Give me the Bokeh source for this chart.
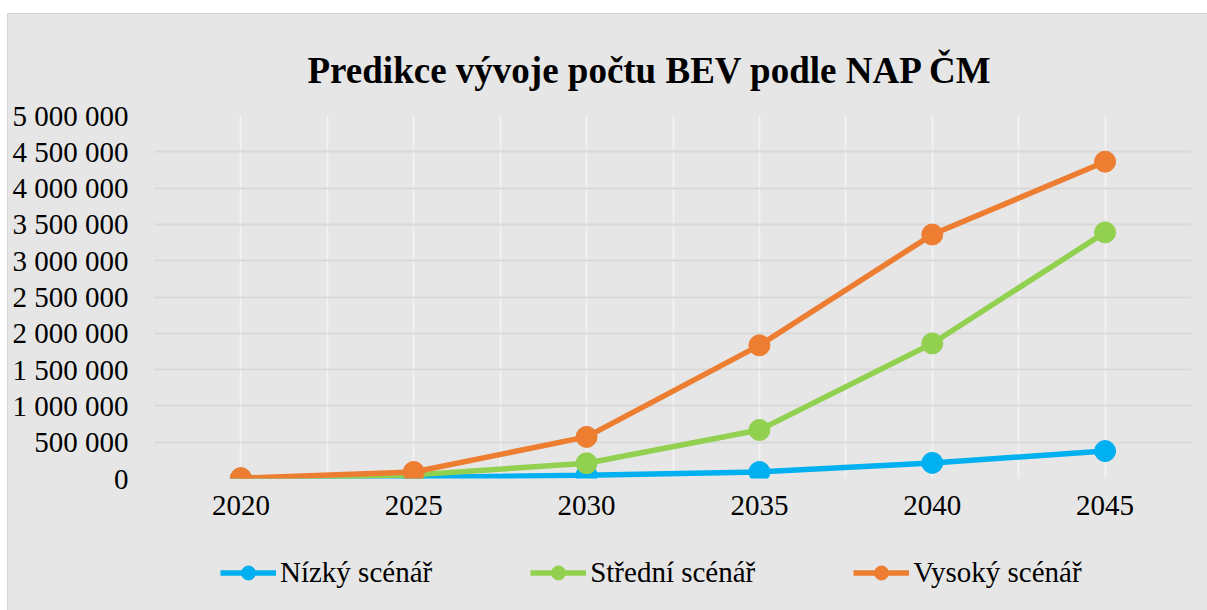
from bokeh.plotting import figure
from bokeh.models import (Range1d, FixedTicker, Legend, LegendItem, Title)
from bokeh.layouts import column
from bokeh.embed import file_html
from bokeh.resources import INLINE

years = [2020, 2025, 2030, 2035, 2040, 2045]
nizky = [0, 15000, 45000, 90000, 215000, 378000]
stredni = [0, 50000, 210000, 668000, 1860000, 3390000]
vysoky = [5000, 90000, 573000, 1834000, 3360000, 4364000]
series_names = ["Nízký scénář", "Střední scénář", "Vysoký scénář"]
colors = ["#00b0f0", "#92d050", "#ed7d31"]
y_ticks = [0, 500000, 1000000, 1500000, 2000000, 2500000, 3000000,
           3500000, 4000000, 4500000, 5000000]
title_text = "Predikce vývoje počtu BEV podle NAP ČM"

FONT = "Liberation Serif"
BG = "#e6e6e6"
NAN = float("nan")

p = figure(width=1199, height=534,
           min_border_left=146, min_border_right=16,
           min_border_top=101, min_border_bottom=70,
           x_range=Range1d(2017.5, 2047.5), y_range=Range1d(0, 5000000),
           output_backend="svg", toolbar_location=None,
           background_fill_color=BG, border_fill_color=BG,
           outline_line_color=None)

# grids
p.ygrid.ticker = FixedTicker(ticks=y_ticks)
p.ygrid.grid_line_color = "#d9d9d9"
p.ygrid.grid_line_width = 2
half_steps = [years[0] - 2.5 + 2.5 * i for i in range(2 * len(years) + 1)]
p.xgrid.ticker = FixedTicker(ticks=half_steps)
p.xgrid.grid_line_color = "#f4f4f4"
p.xgrid.grid_line_width = 1.5

# axes
p.xaxis.ticker = FixedTicker(ticks=years)
p.yaxis.ticker = FixedTicker(ticks=y_ticks)
p.yaxis.major_label_overrides = {v: f"{v:,}".replace(",", " ") for v in y_ticks}
for ax in (p.xaxis[0], p.yaxis[0]):
    ax.axis_line_color = None
    ax.major_tick_line_color = None
    ax.minor_tick_line_color = None
    ax.major_tick_out = 0
    ax.major_tick_in = 0
    ax.minor_tick_out = 0
    ax.major_label_text_font = FONT
    ax.major_label_text_font_size = "29px"
    ax.major_label_text_color = "#000000"
p.xaxis.major_label_standoff = 17
p.yaxis.major_label_standoff = 26

for vals, col in zip([nizky, stredni, vysoky], colors):
    p.line(years, vals, line_color=col, line_width=5.5)
    p.scatter(years, vals, size=21, fill_color=col, line_color=col)

p.title = Title(text=title_text, align="left", offset=153, standoff=49,
                text_font=FONT, text_font_style="bold", text_font_size="37px",
                text_color="#000000", vertical_align="bottom")

# legend strip (separate figure below the chart, proxies styled like the series)
lg = figure(width=1199, height=62, min_border=0,
            min_border_left=0, min_border_right=0,
            min_border_top=0, min_border_bottom=0,
            x_range=Range1d(0, 1), y_range=Range1d(0, 1),
            x_axis_type=None, y_axis_type=None,
            output_backend="svg", toolbar_location=None,
            background_fill_color=None, border_fill_color=BG,
            outline_line_color=None)
lg.grid.visible = False
items = []
for name, col in zip(series_names, colors):
    ln = lg.line([NAN], [NAN], line_color=col, line_width=5.5)
    sc = lg.scatter([NAN], [NAN], fill_color=col, line_color=col)
    items.append(LegendItem(label=name, renderers=[ln, sc]))
legend = Legend(items=items, orientation="horizontal",
                location=(66, 20), padding=0, margin=0,
                spacing=98, glyph_width=56, glyph_height=35,
                label_standoff=4, label_text_font=FONT,
                label_text_font_size="29px", label_text_color="#000000",
                border_line_color=None, background_fill_alpha=0)
lg.add_layout(legend, "center")

layout = column(p, lg, spacing=0)
layout.styles = {"margin-top": "13px", "margin-left": "7px",
                 "background-color": BG,
                 "border-left": "1px solid #d4d4d4", "border-top": "1px solid #d4d4d4"}

open("out.html", "w").write(file_html(layout, INLINE))
